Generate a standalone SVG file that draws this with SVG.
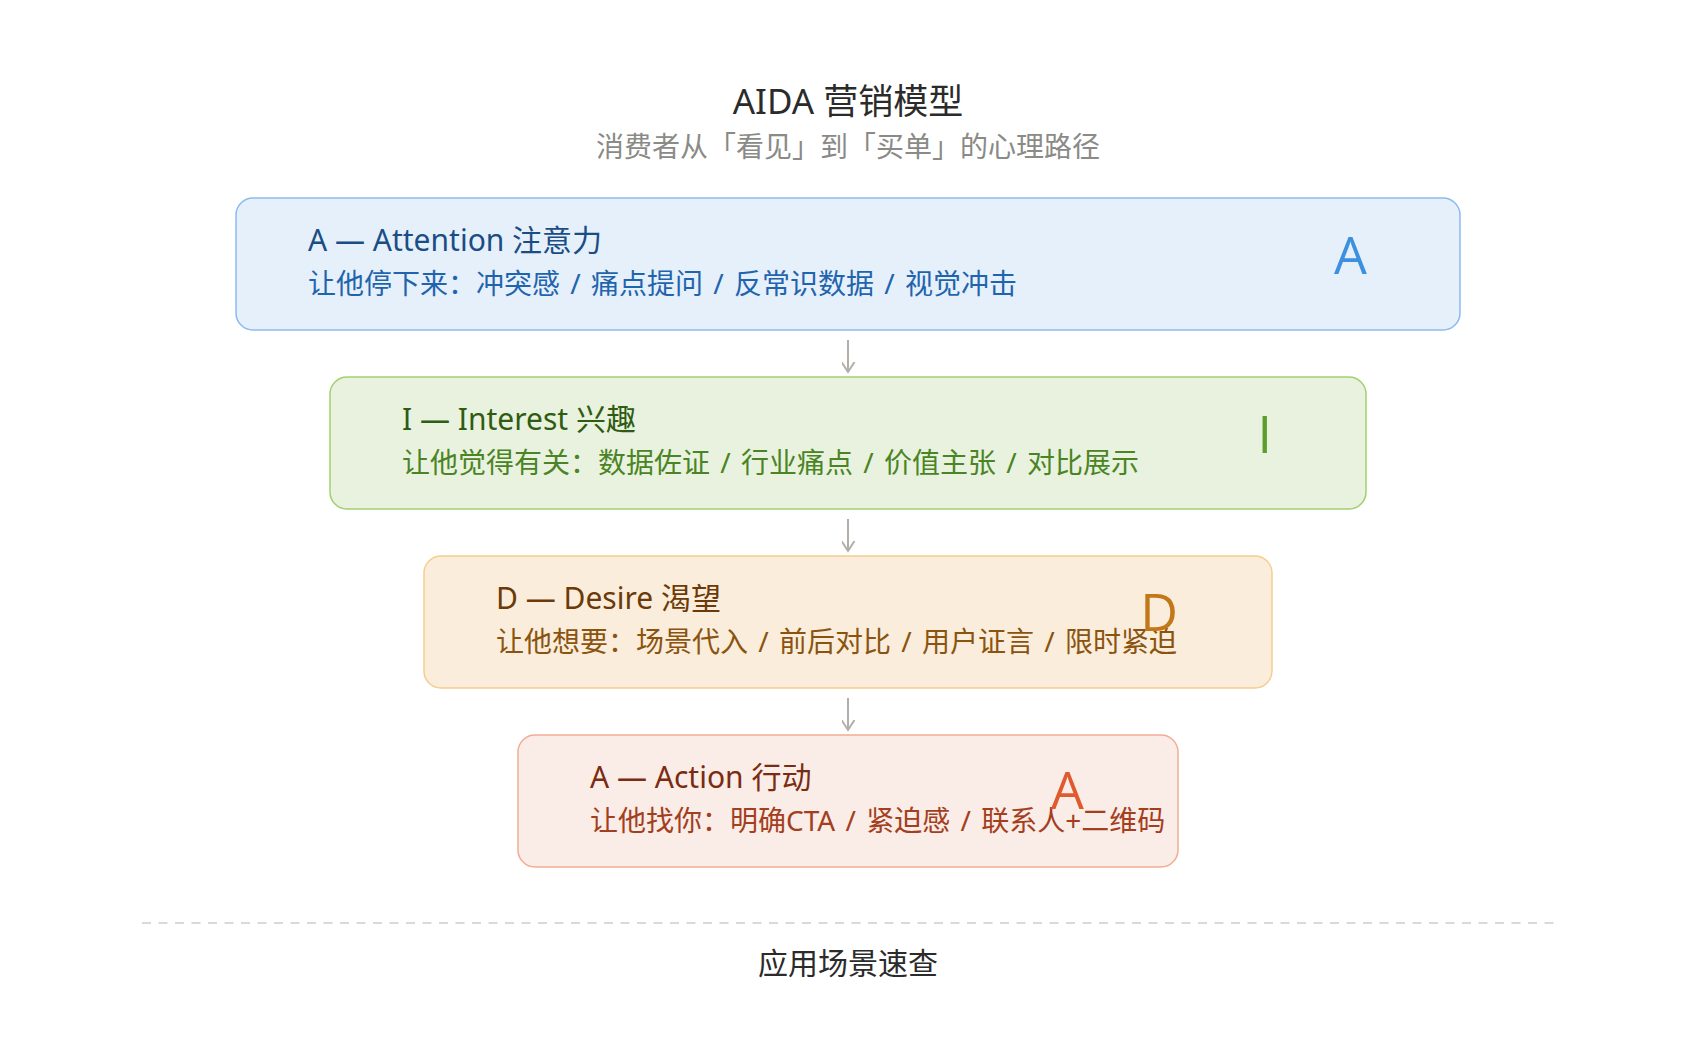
<svg xmlns="http://www.w3.org/2000/svg" width="1696" height="1042" viewBox="0 0 1696 1042">
  <defs>
    <style>
      text { font-family: "Noto Sans", "Noto Sans CJK SC", sans-serif; }
      .main-title { font-size: 35px; fill: #2b2b2b; text-anchor: middle; }
      .main-sub { font-size: 28px; fill: #8a8a86; text-anchor: middle; }
      .box { stroke-width: 1.5; }
      .t { font-size: 30px; }
      .s { font-size: 28px; word-spacing: 3px; }
      .big { font-family: "Open Sans", "Noto Sans", sans-serif; font-size: 52px; text-anchor: end; }
      .conn { stroke: #b3afa8; stroke-width: 2; fill: none; }
      .foot { font-size: 30px; fill: #2b2b2b; text-anchor: middle; }
    </style>
    <marker id="arrow" markerUnits="userSpaceOnUse" markerWidth="20" markerHeight="20" viewBox="-10 -14 20 20" refX="0" refY="0" orient="auto">
      <path d="M-10,-6.5 L0,0 L-10,6.5" fill="none" stroke="#b3afa8" stroke-width="2"/>
    </marker>
  </defs>

  <rect width="1696" height="1042" fill="#ffffff"/>

  <g id="header">
    <text class="main-title" x="848" y="114">AIDA 营销模型</text>
    <text class="main-sub" x="848" y="157">消费者从「看见」到「买单」的心理路径</text>
  </g>

  <g id="node-attention">
    <rect class="box" x="236" y="198" width="1224" height="132" rx="17" fill="#e6f0fb" stroke="#8dbbee"/>
    <text class="t" x="308" y="251" fill="#1b4d85">A — Attention 注意力</text>
    <text class="s" x="308" y="294" fill="#1f64ad">让他停下来：冲突感 / 痛点提问 / 反常识数据 / 视觉冲击</text>
    <text class="big" x="1367" y="274" fill="#3d8fe0">A</text>
  </g>

  <g id="node-interest">
    <rect class="box" x="330" y="377" width="1036" height="132" rx="17" fill="#e9f2de" stroke="#a3cf70"/>
    <text class="t" x="402" y="430" fill="#2f5c12">I — Interest 兴趣</text>
    <text class="s" x="402" y="473" fill="#4a8424">让他觉得有关：数据佐证 / 行业痛点 / 价值主张 / 对比展示</text>
    <text class="big" x="1272" y="453" fill="#5a9e2d">I</text>
  </g>

  <g id="node-desire">
    <rect class="box" x="424" y="556" width="848" height="132" rx="17" fill="#fbeddb" stroke="#f6cd8f"/>
    <text class="t" x="496" y="609" fill="#6b3a08">D — Desire 渴望</text>
    <text class="s" x="496" y="652" fill="#8a5410">让他想要：场景代入 / 前后对比 / 用户证言 / 限时紧迫</text>
    <text class="big" x="1178" y="631" fill="#c27818">D</text>
  </g>

  <g id="node-action">
    <rect class="box" x="518" y="735" width="660" height="132" rx="17" fill="#faece6" stroke="#f2ad95"/>
    <text class="t" x="590" y="788" fill="#7a2c12">A — Action 行动</text>
    <text class="s" x="590" y="831" fill="#a33e1e">让他找你：明确CTA / 紧迫感 / 联系人+二维码</text>
    <text class="big" x="1084" y="809" fill="#e05a2e">A</text>
  </g>

  <g id="connectors">
    <line class="conn" x1="848" y1="340" x2="848" y2="372" marker-end="url(#arrow)"/>
    <line class="conn" x1="848" y1="519" x2="848" y2="551" marker-end="url(#arrow)"/>
    <line class="conn" x1="848" y1="698" x2="848" y2="730" marker-end="url(#arrow)"/>
  </g>

  <g id="divider">
    <line x1="142" y1="923" x2="1556" y2="923" stroke="#dcd9d2" stroke-width="2" stroke-dasharray="9 7.5"/>
  </g>

  <g id="footer">
    <text class="foot" x="848" y="974">应用场景速查</text>
  </g>
</svg>
